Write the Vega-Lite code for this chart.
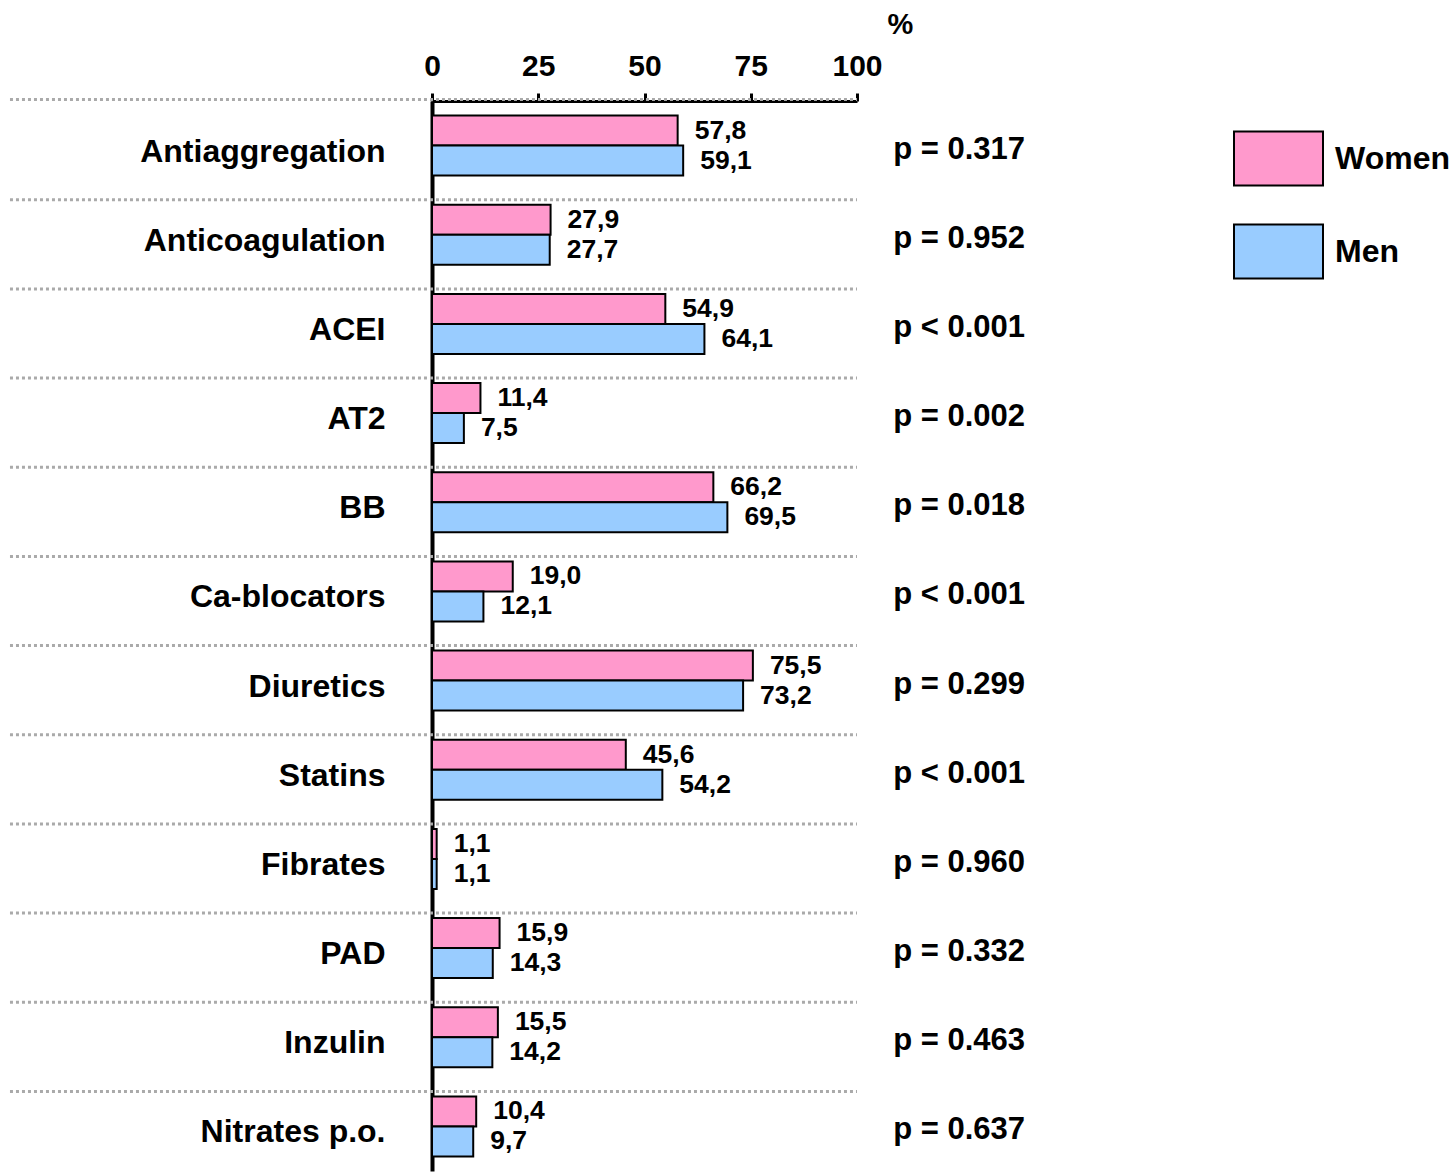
{
  "$schema": "https://vega.github.io/schema/vega-lite/v6.json",
  "autosize": {"type": "none"},
  "padding": {"left": 432, "top": 101, "right": 596, "bottom": 3},
  "width": 425,
  "height": 1070,
  "background": "white",
  "config": {
    "font": "Liberation Sans",
    "view": {"stroke": null}
  },
  "data": {
    "values": [
      {"drug": "Antiaggregation", "sex": "Women", "value": 57.8, "label": "57,8", "p": "p = 0.317"},
      {"drug": "Antiaggregation", "sex": "Men", "value": 59.1, "label": "59,1", "p": "p = 0.317"},
      {"drug": "Anticoagulation", "sex": "Women", "value": 27.9, "label": "27,9", "p": "p = 0.952"},
      {"drug": "Anticoagulation", "sex": "Men", "value": 27.7, "label": "27,7", "p": "p = 0.952"},
      {"drug": "ACEI", "sex": "Women", "value": 54.9, "label": "54,9", "p": "p < 0.001"},
      {"drug": "ACEI", "sex": "Men", "value": 64.1, "label": "64,1", "p": "p < 0.001"},
      {"drug": "AT2", "sex": "Women", "value": 11.4, "label": "11,4", "p": "p = 0.002"},
      {"drug": "AT2", "sex": "Men", "value": 7.5, "label": "7,5", "p": "p = 0.002"},
      {"drug": "BB", "sex": "Women", "value": 66.2, "label": "66,2", "p": "p = 0.018"},
      {"drug": "BB", "sex": "Men", "value": 69.5, "label": "69,5", "p": "p = 0.018"},
      {"drug": "Ca-blocators", "sex": "Women", "value": 19.0, "label": "19,0", "p": "p < 0.001"},
      {"drug": "Ca-blocators", "sex": "Men", "value": 12.1, "label": "12,1", "p": "p < 0.001"},
      {"drug": "Diuretics", "sex": "Women", "value": 75.5, "label": "75,5", "p": "p = 0.299"},
      {"drug": "Diuretics", "sex": "Men", "value": 73.2, "label": "73,2", "p": "p = 0.299"},
      {"drug": "Statins", "sex": "Women", "value": 45.6, "label": "45,6", "p": "p < 0.001"},
      {"drug": "Statins", "sex": "Men", "value": 54.2, "label": "54,2", "p": "p < 0.001"},
      {"drug": "Fibrates", "sex": "Women", "value": 1.1, "label": "1,1", "p": "p = 0.960"},
      {"drug": "Fibrates", "sex": "Men", "value": 1.1, "label": "1,1", "p": "p = 0.960"},
      {"drug": "PAD", "sex": "Women", "value": 15.9, "label": "15,9", "p": "p = 0.332"},
      {"drug": "PAD", "sex": "Men", "value": 14.3, "label": "14,3", "p": "p = 0.332"},
      {"drug": "Inzulin", "sex": "Women", "value": 15.5, "label": "15,5", "p": "p = 0.463"},
      {"drug": "Inzulin", "sex": "Men", "value": 14.2, "label": "14,2", "p": "p = 0.463"},
      {"drug": "Nitrates p.o.", "sex": "Women", "value": 10.4, "label": "10,4", "p": "p = 0.637"},
      {"drug": "Nitrates p.o.", "sex": "Men", "value": 9.7, "label": "9,7", "p": "p = 0.637"}
    ]
  },
  "encoding": {
    "y": {
      "field": "drug",
      "type": "nominal",
      "sort": ["Antiaggregation", "Anticoagulation", "ACEI", "AT2", "BB", "Ca-blocators", "Diuretics", "Statins", "Fibrates", "PAD", "Inzulin", "Nitrates p.o."],
      "scale": {"paddingInner": 0.3266, "paddingOuter": 0.1633},
      "axis": {
        "title": null,
        "orient": "left",
        "ticks": false,
        "grid": false,
        "domain": true,
        "domainColor": "black",
        "domainWidth": 4,
        "labelFont": "Liberation Sans",
        "labelFontSize": 32,
        "labelFontWeight": "bold",
        "labelColor": "black",
        "labelPadding": 47,
        "labelBaseline": "middle",
        "labelOffset": 6,
        "labelLimit": 400
      }
    }
  },
  "layer": [
    {
      "transform": [{"filter": "datum.sex === 'Women' && datum.drug !== 'Antiaggregation'"}],
      "mark": {"type": "rule", "color": "#aaaaaa", "strokeWidth": 3, "strokeDash": [3, 3], "yOffset": -5},
      "encoding": {
        "y": {"field": "drug", "type": "nominal", "bandPosition": 0},
        "x": {"datum": -99.3},
        "x2": {"datum": 100}
      }
    },
    {
      "transform": [{"filter": "datum.sex === 'Women' && datum.drug === 'Antiaggregation'"}],
      "mark": {"type": "rule", "color": "#aaaaaa", "strokeWidth": 3, "strokeDash": [3, 3], "yOffset": -16},
      "encoding": {
        "y": {"field": "drug", "type": "nominal", "bandPosition": 0},
        "x": {"datum": -99.3},
        "x2": {"datum": 100}
      }
    },
    {
      "mark": {"type": "bar", "stroke": "black", "strokeWidth": 2},
      "encoding": {
        "x": {
          "field": "value",
          "type": "quantitative",
          "scale": {"domain": [0, 100], "nice": false},
          "axis": {
            "orient": "top",
            "values": [0, 25, 50, 75, 100],
            "grid": false,
            "domainColor": "black",
            "domainWidth": 3,
            "tickColor": "black",
            "tickWidth": 3,
            "tickSize": 8,
            "labelFontSize": 30,
            "labelFontWeight": "bold",
            "labelColor": "black",
            "labelPadding": 12,
            "labelFlush": false,
            "title": "%",
            "titleFontSize": 29,
            "titleFontWeight": "bold",
            "titleColor": "black",
            "titleX": 468,
            "titleY": -77,
            "titleAlign": "center",
            "titleBaseline": "middle",
            "titleAngle": 0
          }
        },
        "yOffset": {"field": "sex", "type": "nominal", "sort": ["Women", "Men"]},
        "color": {
          "field": "sex",
          "type": "nominal",
          "scale": {"domain": ["Women", "Men"], "range": ["#FF99CC", "#99CCFF"]},
          "legend": {
            "title": null,
            "orient": "none",
            "legendX": 801,
            "legendY": 12,
            "padding": 0,
            "symbolType": "M-1,-0.607H1V0.607H-1Z",
            "symbolSize": 7921,
            "symbolStrokeColor": "black",
            "symbolStrokeWidth": 2,
            "symbolOpacity": 1,
            "labelFontSize": 32,
            "labelFontWeight": "bold",
            "labelColor": "black",
            "labelOffset": 11,
            "labelLimit": 300,
            "rowPadding": 16
          }
        }
      }
    },
    {
      "mark": {"type": "text", "align": "left", "baseline": "middle", "dx": 17, "fontSize": 26.5, "fontWeight": "bold", "color": "black"},
      "encoding": {
        "x": {"field": "value", "type": "quantitative"},
        "yOffset": {"field": "sex", "type": "nominal", "sort": ["Women", "Men"]},
        "text": {"field": "label"}
      }
    },
    {
      "transform": [{"filter": "datum.sex === 'Women'"}],
      "mark": {"type": "text", "align": "left", "baseline": "middle", "dy": 4, "fontSize": 31, "fontWeight": "bold", "color": "black"},
      "encoding": {
        "x": {"datum": 108.5},
        "text": {"field": "p"}
      }
    }
  ]
}
